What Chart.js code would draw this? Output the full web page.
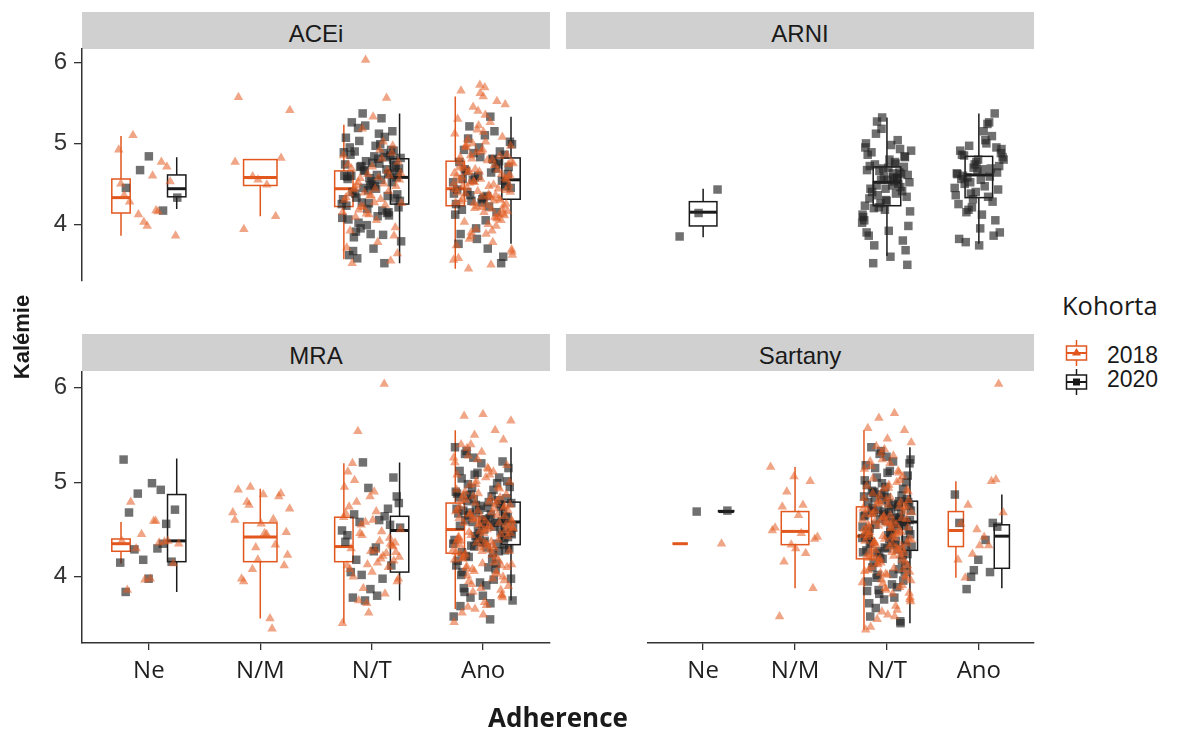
<!DOCTYPE html>
<html>
<head>
<meta charset="utf-8">
<script src="https://cdn.jsdelivr.net/npm/chart.js@4.4.1/dist/chart.umd.min.js"></script>
<style>
  body { margin: 0; background: #fff; width: 1177px; height: 731px; position: relative; overflow: hidden;
         font-family: "Liberation Sans", Arial, sans-serif; color: #1a1a1a; }
  canvas { position: absolute; }
  .strip { position: absolute; height: 37px; width: 468px; background: #d0d0d0; font-size: 24px;
           line-height: 43px; text-align: center; color: #1a1a1a; }
  .title { position: absolute; font-weight: bold; white-space: nowrap; text-align: center; }
  .leg { position: absolute; white-space: nowrap; }
</style>
</head>
<body>
<div class="strip" style="left:82px; top:12px;">ACEi</div>
<div class="strip" style="left:566px; top:12px;">ARNI</div>
<div class="strip" style="left:82px; top:334px;">MRA</div>
<div class="strip" style="left:566px; top:334px;">Sartany</div>

<canvas id="pAcei" width="556" height="290" style="left:0; top:40px;"></canvas>
<canvas id="pArni" width="480" height="290" style="left:560px; top:40px;"></canvas>
<canvas id="pMra" width="556" height="369" style="left:0; top:362px;"></canvas>
<canvas id="pSart" width="480" height="369" style="left:560px; top:362px;"></canvas>

<div class="title" style="left:-78px; top:322px; width:200px; height:30px; line-height:30px; font-size:22px; transform:rotate(-90deg);">Kalémie</div>
<div class="title" style="left:458px; top:701px; width:200px; height:32px; line-height:32px; font-size:26px; font-family:'Open Sans';">Adherence</div>

<div class="leg" style="left:1062px; top:290px; font-size:25.5px; line-height:30px; font-family:'Open Sans';">Kohorta</div>
<svg class="leg" style="left:1065px; top:340px;" width="23" height="26">
  <g stroke="#E2571E" stroke-width="1.5" fill="none">
    <line x1="11.5" y1="0" x2="11.5" y2="6"/><line x1="11.5" y1="20" x2="11.5" y2="26"/>
    <rect x="1.5" y="6" width="20" height="14"/><line x1="1.5" y1="13" x2="21.5" y2="13" stroke-width="2"/>
  </g>
  <polygon points="11.5,8 16,15.5 7,15.5" fill="#E2571E"/>
</svg>
<div class="leg" style="left:1107px; top:342px; font-size:23px; line-height:26px;">2018</div>
<svg class="leg" style="left:1065px; top:369px;" width="23" height="26">
  <g stroke="#1a1a1a" stroke-width="1.5" fill="none">
    <line x1="11.5" y1="0" x2="11.5" y2="6"/><line x1="11.5" y1="20" x2="11.5" y2="26"/>
    <rect x="1.5" y="6" width="20" height="14"/><line x1="1.5" y1="13" x2="21.5" y2="13" stroke-width="2"/>
  </g>
  <rect x="8" y="9.5" width="7" height="7" fill="#1a1a1a"/>
</svg>
<div class="leg" style="left:1107px; top:366px; font-size:23px; line-height:26px;">2020</div>

<script>
const categories = ['Ne', 'N/M', 'N/T', 'Ano'];
const cohorts = ['2018', '2020'];
const yTicks = [4, 5, 6];

// box stats per category: [lower whisker, q1, median, q3, upper whisker]
const boxAcei2018 = [[3.86, 4.14, 4.33, 4.56, 5.09], [4.10, 4.48, 4.58, 4.80, 4.80], [3.57, 4.22, 4.44, 4.66, 5.23], [3.45, 4.23, 4.44, 4.78, 5.58]];
const boxAcei2020 = [[4.19, 4.34, 4.44, 4.61, 4.83], null, [3.52, 4.25, 4.58, 4.81, 5.37], [3.76, 4.31, 4.55, 4.82, 5.33]];
const boxArni2018 = [null, null, null, null];
const boxArni2020 = [[3.84, 3.98, 4.15, 4.28, 4.44], null, [3.61, 4.23, 4.52, 4.71, 5.32], [3.76, 4.33, 4.61, 4.84, 5.37]];
const boxMra2018 = [[4.14, 4.27, 4.35, 4.40, 4.58], [3.56, 4.16, 4.42, 4.57, 4.93], [3.51, 4.16, 4.32, 4.63, 5.20], [3.66, 4.25, 4.50, 4.78, 5.55]];
const boxMra2020 = [[3.84, 4.16, 4.38, 4.87, 5.25], null, [3.75, 4.05, 4.49, 4.64, 5.21], [3.75, 4.34, 4.58, 4.79, 5.37]];
const boxSart2018 = [[4.35, 4.35, 4.35, 4.35, 4.35], [3.88, 4.34, 4.48, 4.69, 5.16], [3.44, 4.19, 4.43, 4.74, 5.55], [3.99, 4.32, 4.49, 4.69, 5.01]];
const boxSart2020 = [[4.69, 4.69, 4.69, 4.70, 4.70], null, [3.51, 4.28, 4.58, 4.80, 5.37], [3.88, 4.09, 4.43, 4.55, 4.87]];

// individual potassium values, one list per adherence category
const ptsAcei2018 = [
  [4.92, 4.17, 5.10, 4.53, 3.98, 4.36, 4.77, 4.12, 3.86, 4.60, 4.28, 4.71, 4.03, 4.50, 4.16],
  [5.57, 4.10, 4.59, 5.41, 4.49, 3.94, 4.82, 4.55, 4.77],
  [4.52, 3.96, 4.71, 4.38, 5.56, 4.21, 4.63, 3.78, 4.45, 4.88, 4.12, 4.33, 5.02, 4.57, 3.64, 4.27, 4.69, 4.41, 6.03, 4.15, 4.92, 4.48, 3.86, 4.36, 4.74, 4.24, 5.18, 4.55, 4.05, 4.43, 3.55, 4.62, 4.30, 4.81, 4.18, 4.47, 5.33, 3.92, 4.66, 4.39, 4.26, 4.58, 4.09, 4.97, 4.35, 3.71, 4.50, 4.22, 4.77, 4.44, 3.52, 4.60, 4.13, 4.85, 4.31],
  [4.41, 5.12, 3.92, 4.66, 4.25, 5.58, 4.83, 4.07, 4.52, 3.69, 4.37, 4.95, 4.18, 5.72, 4.60, 4.29, 3.85, 4.74, 5.35, 4.46, 4.12, 4.89, 3.56, 4.33, 5.05, 4.57, 4.21, 4.70, 3.98, 5.45, 4.40, 4.79, 4.03, 4.62, 5.22, 4.27, 3.78, 4.51, 4.86, 4.15, 5.65, 4.44, 4.68, 3.62, 4.35, 4.99, 4.23, 4.56, 5.30, 4.09, 4.81, 4.48, 3.88, 4.72, 4.30, 5.17, 4.63, 4.19, 3.45, 4.42, 4.92, 4.54, 5.52, 4.26, 4.77, 4.00, 4.38, 5.08, 4.65, 3.74, 4.49, 4.85, 4.16, 5.69, 4.58, 4.32, 3.94, 4.75, 5.26, 4.45, 4.11, 4.90, 3.58, 4.36, 5.00, 4.61, 4.24, 4.69, 4.05, 5.40, 4.43, 4.80, 3.82, 4.55, 5.14, 4.28, 4.67, 4.20, 3.66, 4.47, 4.96, 4.13, 5.62, 4.39, 4.73, 3.90, 4.59, 5.02, 4.31, 4.84, 4.22, 4.50, 3.50, 4.64, 5.48, 4.34, 4.78, 4.08, 4.53, 4.97]
];
const ptsAcei2020 = [
  [4.84, 4.45, 4.17, 4.67, 4.33],
  [],
  [4.62, 5.22, 4.08, 4.75, 4.33, 4.91, 3.88, 4.56, 5.08, 4.27, 4.69, 4.44, 3.67, 4.85, 4.19, 4.60, 5.31, 4.02, 4.73, 4.50, 4.95, 4.14, 4.66, 3.79, 4.81, 4.38, 5.15, 4.57, 4.23, 4.88, 3.95, 4.64, 4.47, 5.26, 4.11, 4.78, 4.31, 4.99, 3.58, 4.70, 4.53, 4.06, 4.83, 5.37, 4.29, 4.61, 3.84, 4.92, 4.42, 4.74, 4.17, 5.03, 4.58, 3.70, 4.86, 4.35, 4.67, 4.25, 5.12, 3.91, 4.80, 4.48, 4.59, 3.52, 4.72, 4.21, 4.97, 4.40, 4.63, 3.99, 4.89, 4.55, 5.19, 4.32, 4.76, 3.62, 4.68, 4.45, 4.82, 4.10, 4.90, 4.52, 4.26, 5.07, 3.87, 4.71, 4.37, 4.84, 4.60, 4.15],
  [4.62, 5.10, 4.18, 4.78, 3.95, 4.52, 5.33, 4.40, 4.86, 4.27, 3.76, 4.69, 4.55, 5.02, 4.35, 4.92, 3.52, 4.60, 4.12, 4.81, 5.21, 4.47, 4.33, 3.88, 4.74, 4.58, 4.99, 4.22, 4.66, 3.60, 4.83, 4.43, 5.15, 4.29, 4.71, 4.05, 4.56, 4.90, 3.82, 4.38, 4.64, 5.06, 4.50, 4.31, 4.77, 4.15, 4.88, 4.45, 3.70, 4.68, 4.54, 4.95, 4.25, 4.80, 4.36]
];
const ptsArni2018 = [[], [], [], []];
const ptsArni2020 = [
  [4.43, 4.14, 3.85],
  [],
  [4.95, 4.38, 5.27, 4.61, 3.92, 4.72, 4.46, 5.18, 4.12, 4.58, 3.74, 4.83, 4.30, 4.67, 5.04, 4.21, 4.52, 3.60, 4.89, 4.41, 4.69, 4.05, 4.77, 5.12, 4.34, 4.55, 3.86, 4.64, 4.26, 4.91, 4.48, 3.52, 4.71, 4.18, 5.00, 4.57, 4.36, 3.98, 4.80, 4.44, 4.62, 5.32, 4.09, 4.53, 4.74, 3.68, 4.29, 4.86, 4.50, 4.66, 4.16, 4.98, 4.40, 3.80, 4.59, 4.23, 4.75, 4.48, 3.50, 4.70, 4.32, 4.93, 4.55, 4.02, 4.63, 4.20, 4.84, 4.44, 3.90, 4.57],
  [4.85, 5.37, 4.40, 4.63, 5.24, 4.18, 4.72, 3.95, 4.56, 5.09, 4.31, 4.80, 4.47, 3.78, 4.95, 4.66, 4.25, 5.26, 4.52, 4.88, 4.12, 4.60, 3.86, 4.74, 4.36, 5.00, 4.58, 4.43, 3.74, 4.91, 4.69, 4.21, 4.83, 5.15, 4.50, 4.05, 4.77, 4.62, 4.34, 4.97, 3.90, 4.55, 4.86, 4.28, 4.70, 4.45, 5.04, 4.15, 4.64, 4.80, 3.82, 4.59, 4.38, 4.93, 4.68]
];
const ptsMra2018 = [
  [4.59, 4.79, 4.38, 3.97, 4.38, 4.36, 4.30, 4.14, 3.98, 3.86, 4.37, 4.45, 4.35, 4.59],
  [4.61, 4.95, 4.23, 4.46, 3.98, 4.85, 4.31, 4.68, 3.56, 4.79, 4.12, 4.56, 4.92, 4.34, 4.08, 4.72, 4.45, 3.95, 4.88, 4.18, 4.60, 3.45, 4.76, 4.47, 4.87],
  [4.32, 4.85, 4.12, 6.04, 4.55, 3.98, 4.28, 5.20, 4.41, 3.72, 4.63, 4.19, 5.54, 4.36, 4.05, 4.74, 4.25, 3.88, 4.50, 4.15, 5.02, 4.33, 3.62, 4.67, 4.22, 4.46, 3.95, 4.90, 4.30, 4.10, 4.58, 3.51, 4.38, 4.79, 4.17, 4.27, 5.11, 3.82, 4.44, 4.21, 4.69, 4.00, 4.35, 4.13, 4.95, 4.48, 3.75, 4.26, 4.60, 4.08],
  [4.52, 5.08, 4.11, 4.73, 3.88, 4.39, 5.55, 4.62, 4.27, 3.70, 4.86, 4.45, 5.24, 4.18, 4.68, 3.95, 4.55, 5.72, 4.33, 4.80, 4.06, 4.60, 5.14, 4.24, 3.78, 4.48, 4.92, 4.15, 5.40, 4.70, 4.36, 3.62, 4.57, 5.01, 4.29, 4.83, 4.01, 4.64, 5.32, 4.42, 4.21, 3.84, 4.76, 4.50, 5.70, 4.12, 4.88, 4.35, 3.98, 4.66, 5.18, 4.46, 4.25, 4.95, 3.66, 4.58, 4.79, 4.09, 5.45, 4.40, 4.71, 4.30, 3.92, 4.53, 5.05, 4.20, 4.84, 4.62, 3.52, 4.37, 5.28, 4.49, 4.14, 4.74, 4.03, 4.60, 5.65, 4.32, 4.90, 3.81, 4.55, 4.26, 5.11, 4.67, 4.43, 3.73, 4.82, 4.17, 4.98, 4.51, 4.28, 5.36, 3.96, 4.63, 4.41, 4.77, 4.08, 5.00, 4.34, 4.57, 3.86, 4.70, 5.21, 4.23, 4.47, 4.87, 3.60, 4.38, 4.65, 5.50, 4.13, 4.54, 4.81, 4.00, 4.31, 5.08, 4.72, 4.44, 3.90, 4.59, 4.19, 4.93, 4.36, 5.26, 4.52, 3.68, 4.75, 4.27, 4.62, 4.05, 4.85, 4.46, 5.15, 4.22, 3.80, 4.56, 4.69, 4.33, 4.97, 4.10, 4.50, 5.40, 4.39, 4.78]
];
const ptsMra2020 = [
  [5.24, 4.92, 4.88, 4.71, 4.99, 4.68, 4.56, 4.18, 4.15, 4.30, 4.29, 4.16, 3.98, 3.84, 4.35],
  [],
  [5.21, 4.52, 3.80, 4.66, 4.12, 4.94, 4.37, 3.98, 4.58, 4.85, 4.27, 4.05, 4.72, 3.75, 4.49, 4.60, 4.18, 5.05, 3.87, 4.44, 4.64, 4.02, 4.78, 4.31, 3.78, 4.55],
  [4.60, 5.12, 4.35, 4.82, 3.98, 4.55, 5.30, 4.44, 4.71, 4.12, 4.92, 3.78, 4.63, 4.38, 5.04, 4.27, 4.76, 4.52, 3.55, 4.86, 4.41, 5.20, 4.67, 4.08, 4.58, 4.95, 4.31, 3.88, 4.74, 4.49, 5.37, 4.19, 4.65, 4.83, 4.36, 3.69, 4.57, 5.08, 4.45, 4.79, 4.22, 4.69, 3.94, 4.88, 4.53, 4.33, 5.15, 4.61, 4.05, 4.77, 4.40, 3.58, 4.66, 4.98, 4.28, 4.56, 4.84, 4.14, 5.26, 4.47, 4.73, 3.84, 4.59, 4.37, 4.90, 4.25, 4.68, 5.01, 4.50, 4.02, 4.81, 4.43, 3.75, 4.62, 5.33, 4.34, 4.75, 4.17, 4.57, 4.94, 4.30, 3.91, 4.70, 4.48, 5.10, 4.39, 4.85, 4.21, 4.64, 3.80, 4.54, 4.99, 4.32, 4.78, 4.10, 4.60, 5.22, 4.46, 4.72, 3.97, 4.87, 4.42, 4.58, 4.26, 5.05, 4.67, 4.35, 3.72, 4.80, 4.52]
];
const ptsSart2018 = [
  [4.35],
  [5.16, 4.46, 4.74, 3.88, 5.06, 4.52, 4.25, 4.90, 4.42, 4.65, 3.58, 5.01, 4.34, 4.49, 4.76, 4.16, 4.40, 4.30],
  [4.45, 5.02, 4.15, 4.68, 3.82, 4.36, 5.55, 4.58, 4.22, 3.65, 4.80, 4.40, 5.20, 4.10, 4.62, 3.93, 4.50, 5.73, 4.28, 4.75, 4.02, 4.55, 5.10, 4.19, 3.74, 4.42, 4.88, 4.08, 5.35, 4.66, 4.31, 3.55, 4.52, 4.97, 4.24, 4.79, 3.97, 4.60, 5.28, 4.37, 4.16, 3.86, 4.71, 4.46, 5.68, 4.05, 4.84, 4.30, 3.91, 4.63, 5.14, 4.41, 4.20, 4.92, 3.60, 4.53, 4.74, 4.04, 5.42, 4.35, 4.67, 4.25, 3.88, 4.48, 5.00, 4.13, 4.81, 4.57, 3.47, 4.33, 5.24, 4.44, 4.09, 4.70, 3.99, 4.56, 5.57, 4.27, 4.86, 3.78, 4.51, 4.21, 5.06, 4.64, 4.38, 3.69, 4.77, 4.12, 4.94, 4.47, 4.23, 5.31, 3.94, 4.59, 4.36, 4.73, 4.03, 4.96, 4.29, 4.54, 3.83, 4.65, 5.17, 4.18, 4.43, 4.83, 3.58, 4.34, 4.61, 5.46, 4.07, 4.49, 4.78, 3.96, 4.26, 5.04, 4.69, 4.40, 3.44, 4.55, 4.14, 4.90, 4.32, 5.22, 4.47, 3.63, 4.72, 4.22, 4.58, 4.01, 4.82, 4.42, 5.12, 4.17, 3.76, 4.52, 4.66, 4.29, 4.93, 4.06, 4.45, 5.38, 4.35, 4.76, 4.20, 3.89, 4.60, 4.39],
  [4.76, 6.04, 4.33, 4.56, 5.01, 4.24, 4.68, 4.42, 3.99, 5.03, 4.50, 4.18, 4.33]
];
const ptsSart2020 = [
  [4.69, 4.70],
  [],
  [4.62, 5.15, 4.33, 4.84, 3.95, 4.56, 5.30, 4.45, 4.72, 4.10, 4.93, 3.76, 4.65, 4.38, 5.05, 4.24, 4.78, 4.51, 3.53, 4.87, 4.41, 5.22, 4.68, 4.05, 4.59, 4.97, 4.29, 3.86, 4.75, 4.47, 5.37, 4.17, 4.66, 4.85, 4.34, 3.67, 4.58, 5.10, 4.43, 4.80, 4.20, 4.70, 3.92, 4.89, 4.54, 4.31, 5.18, 4.63, 4.02, 4.79, 4.40, 3.58, 4.67, 4.99, 4.26, 4.57, 4.83, 4.12, 5.27, 4.48, 4.74, 3.82, 4.60, 4.36, 4.91, 4.23, 4.69, 5.02, 4.50, 3.99, 4.82, 4.44, 3.72, 4.61, 5.33, 4.32, 4.76, 4.15, 4.58, 4.95, 4.28, 3.89, 4.71, 4.49, 5.12, 4.37, 4.86, 4.19, 4.64, 3.78, 4.55, 5.00, 4.30, 4.79, 4.08, 4.61, 5.24, 4.46, 4.73, 3.96, 4.88, 4.42, 4.59, 4.25, 5.07, 4.68, 4.35, 3.51, 4.81, 4.53, 4.03, 4.90, 4.39, 4.64, 3.85, 4.77, 4.27, 5.20, 4.52, 4.70],
  [4.57, 4.07, 4.87, 4.39, 3.87, 4.53, 4.18, 4.57, 4.05, 4.00]
];

const panels = [
  { id: 'pAcei', pts: [ptsAcei2018, ptsAcei2020], box: [boxAcei2018, boxAcei2020], showX: false, showY: true, pad: { left: 0, right: 6, top: 9, bottom: 9 } },
  { id: 'pArni', pts: [ptsArni2018, ptsArni2020], box: [boxArni2018, boxArni2020], showX: false, showY: false, pad: { left: 6, right: 6, top: 9, bottom: 9 } },
  { id: 'pMra', pts: [ptsMra2018, ptsMra2020], box: [boxMra2018, boxMra2020], showX: true, showY: true, pad: { left: 0, right: 6, top: 10, bottom: 48 } },
  { id: 'pSart', pts: [ptsSart2018, ptsSart2020], box: [boxSart2018, boxSart2020], showX: true, showY: false, pad: { left: 6, right: 6, top: 10, bottom: 48 } }
];

const lineColors = ['#E2571E', '#1a1a1a'];
const pointColors = ['rgba(228, 92, 34, 0.55)', 'rgba(35, 35, 35, 0.65)'];

// horizontal spread of the jittered points (fraction of a category)
function jitter(i, seed) {
  const f = (i * 0.6180339887 + seed) % 1;
  return (f - 0.5) * 0.54;
}

// boxes are drawn under the points; dodged when both cohorts are present
const boxPlugin = {
  id: 'boxes',
  beforeDatasetsDraw(chart, args, opts) {
    const { ctx, scales: { x, y } } = chart;
    const [b18, b20] = opts.stats;
    ctx.save();
    categories.forEach((_, k) => {
      const both = b18[k] && b20[k];
      [b18[k], b20[k]].forEach((s, ci) => {
        if (!s) return;
        const off = both ? (ci === 0 ? -0.25 : 0.25) : 0;
        const w = both ? 0.165 : 0.3;
        const xc = x.getPixelForValue(k + 1 + off);
        const half = x.getPixelForValue(k + 1 + off + w / 2) - xc;
        const [lo, q1, med, q3, hi] = s.map(v => y.getPixelForValue(v));
        ctx.strokeStyle = lineColors[ci];
        ctx.lineWidth = 1.5;
        ctx.beginPath();
        ctx.moveTo(xc, hi); ctx.lineTo(xc, q3);
        ctx.moveTo(xc, q1); ctx.lineTo(xc, lo);
        ctx.stroke();
        ctx.strokeRect(xc - half, q3, 2 * half, q1 - q3);
        ctx.lineWidth = 3;
        ctx.beginPath();
        ctx.moveTo(xc - half, med); ctx.lineTo(xc + half, med);
        ctx.stroke();
      });
    });
    ctx.restore();
  }
};

panels.forEach((p, pi) => {
  const datasets = cohorts.map((c, ci) => ({
    label: c,
    data: p.pts[ci].flatMap((vals, k) =>
      vals.map((v, i) => ({ x: k + 1 + jitter(i, pi * 0.29 + k * 0.137 + ci * 0.5), y: v }))),
    pointStyle: ci === 0 ? 'triangle' : 'rect',
    pointRadius: ci === 0 ? 5.5 : 6,
    pointHoverRadius: ci === 0 ? 5.5 : 6,
    backgroundColor: pointColors[ci],
    borderWidth: 0
  }));

  new Chart(document.getElementById(p.id), {
    type: 'scatter',
    data: { datasets },
    options: {
      responsive: false,
      animation: false,
      devicePixelRatio: 1,
      layout: { padding: p.pad },
      plugins: {
        legend: { display: false },
        tooltip: { enabled: false },
        boxes: { stats: p.box }
      },
      scales: {
        x: {
          type: 'linear', min: 0.4, max: 4.6, display: p.showX,
          afterBuildTicks: s => { s.ticks = categories.map((_, k) => ({ value: k + 1 })); },
          afterFit: s => { s.height = 40; s.paddingLeft = 0; s.paddingRight = 0; },
          ticks: { callback: v => categories[v - 1], font: { family: 'Open Sans', size: 24 }, color: '#1e1e1e', padding: 7, maxRotation: 0, autoSkip: false },
          grid: { drawOnChartArea: false, tickLength: 7, color: '#333', lineWidth: 1.3 },
          border: { color: '#333', width: 1.5 }
        },
        y: {
          type: 'linear', min: 3.30, max: 6.166, display: p.showY,
          afterBuildTicks: s => { s.ticks = yTicks.map(v => ({ value: v })); },
          afterFit: s => { s.width = 82; s.paddingTop = 0; s.paddingBottom = 0; },
          ticks: { font: { family: 'Liberation Sans', size: 24 }, color: '#333', padding: 7 },
          grid: { drawOnChartArea: false, tickLength: 8, color: '#333', lineWidth: 1.3 },
          border: { color: '#333', width: 1.5 }
        }
      }
    },
    plugins: [boxPlugin]
  });
});
</script>
</body>
</html>
